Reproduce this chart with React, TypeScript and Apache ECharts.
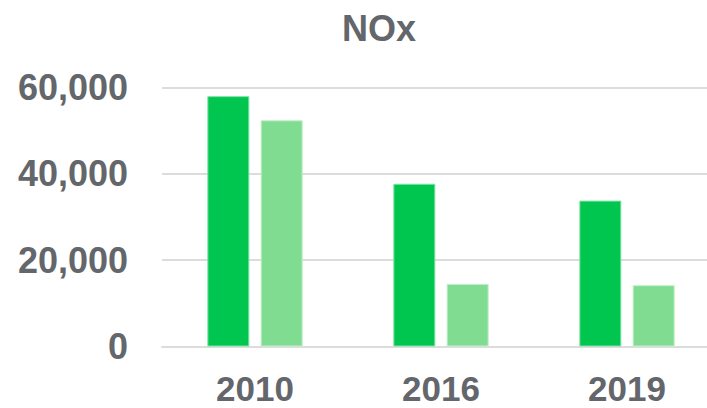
import React, { useEffect, useRef } from "react";
import * as echarts from "echarts";

const categories = ["2010", "2016", "2019"];
const seriesA = [58000, 37700, 33800];
const seriesB = [52400, 14500, 14200];
const yTicks = [0, 20000, 40000, 60000];

const TEXT = "#63666A";
const FONT = "'Liberation Sans', Arial, sans-serif";

export default function App() {
  const ref = useRef<HTMLDivElement>(null);
  useEffect(() => {
    if (!ref.current) return;
    const chart = echarts.init(ref.current, undefined, { renderer: "svg" });
    chart.setOption({
      animation: false,
      backgroundColor: "#ffffff",
      title: {
        text: "NOx",
        left: 374,
        textAlign: "center",
        top: 5,
        textStyle: { color: TEXT, fontSize: 36, fontWeight: "bold", fontFamily: FONT },
      },
      grid: { left: 162, top: 87.5, width: 558, height: 259 },
      xAxis: {
        type: "category",
        data: categories,
        axisLine: { lineStyle: { color: "#dcdcdc", width: 2 } },
        axisTick: { show: false },
        axisLabel: {
          color: TEXT,
          fontSize: 35,
          lineHeight: 28,
          fontWeight: "bold",
          fontFamily: FONT,
          margin: 28,
        },
      },
      yAxis: {
        type: "value",
        min: yTicks[0],
        max: yTicks[yTicks.length - 1],
        interval: 20000,
        axisLine: { show: false },
        axisTick: { show: false },
        splitLine: { lineStyle: { color: "#dcdcdc", width: 2 } },
        axisLabel: {
          color: TEXT,
          fontSize: 36,
          fontWeight: "bold",
          fontFamily: FONT,
          margin: 34,
          formatter: (v: number) => v.toLocaleString("en-US"),
        },
      },
      series: [
        {
          type: "bar",
          data: seriesA,
          barWidth: 42,
          barGap: "27%",
          itemStyle: { color: "#00C650", borderColor: "#7fe3a6", borderWidth: 1 },
        },
        {
          type: "bar",
          data: seriesB,
          barWidth: 42,
          itemStyle: { color: "#80DC90", borderColor: "#c0efc8", borderWidth: 1 },
        },
      ],
    });
    return () => chart.dispose();
  }, []);
  return (
    <div style={{ position: "absolute", left: 0, top: 0, width: 707, height: 408, overflow: "hidden" }}>
      <div ref={ref} style={{ width: 720, height: 408 }} />
    </div>
  );
}
